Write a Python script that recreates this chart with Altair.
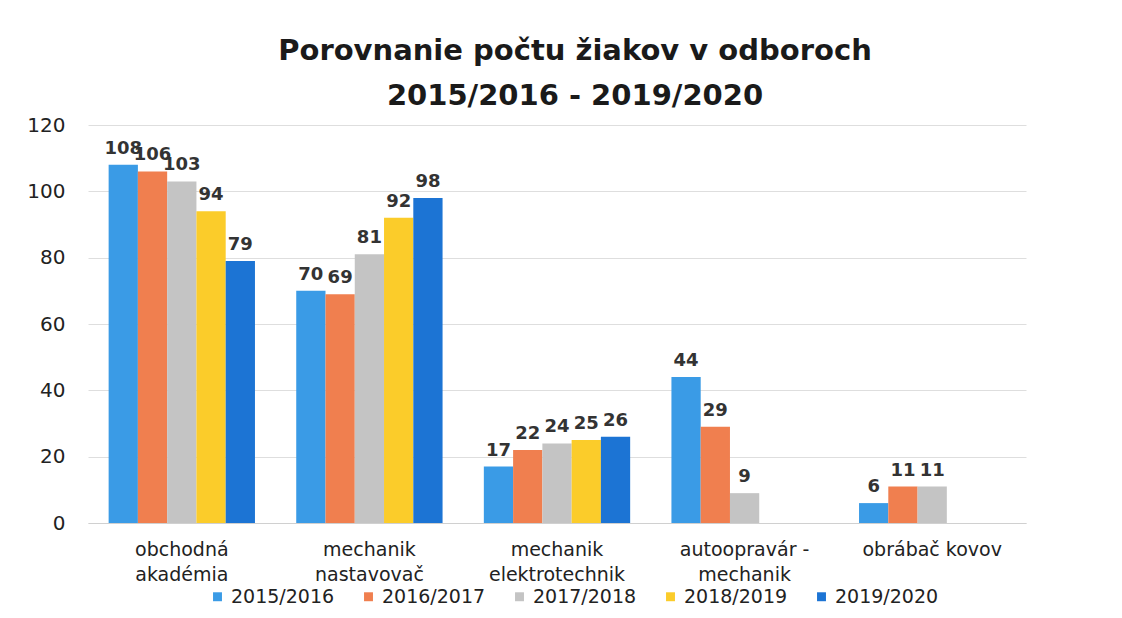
import altair as alt
import pandas as pd

categories = ["obchodná|akadémia", "mechanik|nastavovač", "mechanik|elektrotechnik",
              "autoopravár -|mechanik", "obrábač kovov"]
series = ["2015/2016", "2016/2017", "2017/2018", "2018/2019", "2019/2020"]
colors = ["#3a9be6", "#f07f4f", "#c4c4c4", "#fbcc2a", "#1c74d4"]

v_2015 = [108, 70, 17, 44, 6]
v_2016 = [106, 69, 22, 29, 11]
v_2017 = [103, 81, 24, 9, 11]
v_2018 = [94, 92, 25, None, None]
v_2019 = [79, 98, 26, None, None]

rows = []
for s, vals in zip(series, [v_2015, v_2016, v_2017, v_2018, v_2019]):
    for c, v in zip(categories, vals):
        if v is not None:
            rows.append({"odbor": c, "rok": s, "ziaci": v})
df = pd.DataFrame(rows)

FONT = "DejaVu Sans"

x = alt.X("odbor:N", sort=categories, title=None,
          scale=alt.Scale(paddingInner=0.22, paddingOuter=0.11),
          axis=alt.Axis(labelAngle=0, labelExpr="split(datum.label, '|')",
                        labelFontSize=19, labelColor="#222222", labelFont=FONT,
                        labelLineHeight=25, labelPadding=17,
                        ticks=False, domainColor="#d0d0d0", labelLimit=220))
xo = alt.XOffset("rok:N", sort=series, scale=alt.Scale(domain=series))
y = alt.Y("ziaci:Q", title=None,
          scale=alt.Scale(domain=[0, 120]),
          axis=alt.Axis(values=[0, 20, 40, 60, 80, 100, 120], labelFontSize=20,
                        labelColor="#222222", labelFont=FONT, ticks=False, domain=False,
                        gridColor="#dedede", labelPadding=23, minExtent=75, maxExtent=75))

bars = alt.Chart(df).mark_bar().encode(
    x=x, xOffset=xo, y=y,
    color=alt.Color("rok:N", sort=series,
                    scale=alt.Scale(domain=series, range=colors),
                    legend=alt.Legend(title=None, orient="none", direction="horizontal",
                                      legendX=120, legendY=462, columns=5,
                                      symbolType="square", symbolSize=80,
                                      labelFontSize=19, labelFont=FONT, labelColor="#222222",
                                      columnPadding=24, symbolOffset=0, labelOffset=4)),
)

labels = alt.Chart(df).mark_text(dy=-16, fontSize=18, fontWeight="bold", font=FONT,
                                 color="#333333").encode(
    x=x, xOffset=xo, y=y, text="ziaci:Q"
)

chart = (bars + labels).properties(
    width=938, height=398, background="white",
    padding={"top": 29, "left": 5, "right": 5, "bottom": 5},
    title=alt.TitleParams(["Porovnanie počtu žiakov v odboroch", "2015/2016 - 2019/2020"],
                          fontSize=29, font=FONT, fontWeight="bold", color="#1a1a1a",
                          lineHeight=45, anchor="middle", offset=4, dx=18),
).configure_view(strokeWidth=0)

chart.save("out.html", embed_options={"renderer": "svg", "actions": False})
